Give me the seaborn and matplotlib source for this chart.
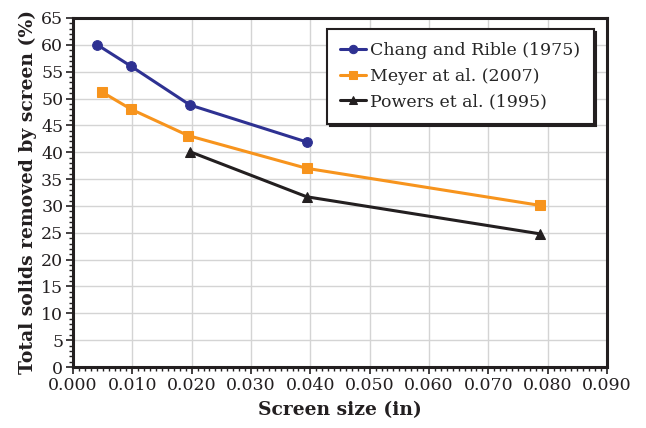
import numpy as np
import pandas as pd
import matplotlib
matplotlib.use("Agg")
import matplotlib.pyplot as plt
from matplotlib.ticker import MultipleLocator, FormatStrFormatter
import seaborn as sns

# screen sizes (in) and total solids removed (%)
chang_x = [0.0041, 0.0098, 0.0197, 0.0394]
chang_y = [60.0, 56.0, 48.8, 41.9]
meyer_x = [0.0049, 0.0098, 0.0194, 0.0394, 0.0787]
meyer_y = [51.2, 48.0, 43.1, 37.0, 30.1]
powers_x = [0.0197, 0.0394, 0.0787]
powers_y = [40.1, 31.7, 24.8]

series = [
    ("Chang and Rible (1975)", chang_x, chang_y, "#2E3192", "o", 7),
    ("Meyer at al. (2007)", meyer_x, meyer_y, "#F7941D", "s", 7),
    ("Powers et al. (1995)", powers_x, powers_y, "#231F20", "^", 7),
]

sns.set_theme(style="white")
plt.rcParams["font.family"] = ["DejaVu Serif"]

fig = plt.figure(figsize=(6.46, 4.28), dpi=100)
ax = fig.add_axes([0.113, 0.1425, 0.8266, 0.8155])

for name, xs, ys, color, marker, ms in series:
    df = pd.DataFrame({"x": xs, "y": ys})
    sns.lineplot(data=df, x="x", y="y", ax=ax, color=color, marker=marker,
                 markersize=ms, markeredgecolor=color, linewidth=2.2,
                 label=name)

ax.set_xlim(0, 0.09)
ax.set_ylim(0, 65)
ax.xaxis.set_major_locator(MultipleLocator(0.01))
ax.xaxis.set_minor_locator(MultipleLocator(0.001))
ax.yaxis.set_major_locator(MultipleLocator(5))
ax.yaxis.set_minor_locator(MultipleLocator(1))
ax.xaxis.set_major_formatter(FormatStrFormatter("%.3f"))
ax.grid(True, which="major", color="#d4d4d4", linewidth=1)
ax.set_axisbelow(True)

for sp in ax.spines.values():
    sp.set_color("#231F20")
    sp.set_linewidth(2.2)

ax.tick_params(which="major", direction="out", length=5, width=1.2,
               color="#231F20", labelsize=12.5, pad=2, bottom=True, left=True)
ax.tick_params(which="minor", direction="out", length=3, width=1,
               color="#231F20", bottom=True, left=True)
for lab in ax.get_xticklabels() + ax.get_yticklabels():
    lab.set_color("#231F20")

ax.set_xlabel("Screen size (in)", fontsize=13.5, fontweight="bold",
              color="#231F20", labelpad=5)
ax.set_ylabel("Total solids removed by screen (%)", fontsize=13.5,
              fontweight="bold", color="#231F20", labelpad=3)

leg = ax.legend(loc="upper right", bbox_to_anchor=(0.975, 0.968),
                fontsize=12.5, frameon=True, fancybox=False,
                shadow={"color": "#231F20", "alpha": 1},
                handlelength=1.5, handletextpad=0.25, borderpad=0.75,
                labelspacing=0.5, borderaxespad=0)
leg.get_frame().set_edgecolor("#231F20")
leg.get_frame().set_linewidth(1.5)
leg.get_frame().set_alpha(1)
for h in leg.legend_handles:
    h.set_markersize(6)

fig.savefig("out.png", dpi=100)
